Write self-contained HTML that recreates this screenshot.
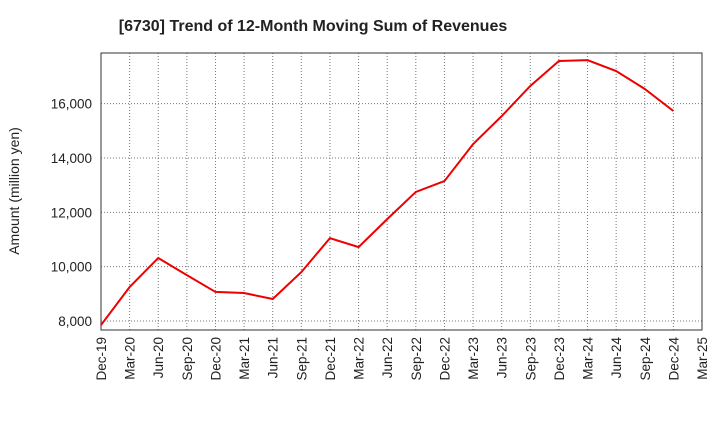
<!DOCTYPE html>
<html><head><meta charset="utf-8"><style>
body{margin:0;background:#fff;font-family:"Liberation Sans",sans-serif}
svg text{font-family:"Liberation Sans",sans-serif}
</style></head><body>
<svg id="c" width="720" height="440" xmlns="http://www.w3.org/2000/svg">
<text x="313" y="31" text-anchor="middle" font-size="16" font-weight="bold" fill="#222">[6730]  Trend of 12-Month Moving Sum of Revenues</text>
<text transform="translate(19,191) rotate(-90)" text-anchor="middle" font-size="14" fill="#222">Amount (million yen)</text>
<g id="grid"></g><g id="axes"></g><g id="series"></g>
</svg>
<script>
const categories=["Dec-19","Mar-20","Jun-20","Sep-20","Dec-20","Mar-21","Jun-21","Sep-21","Dec-21","Mar-22","Jun-22","Sep-22","Dec-22","Mar-23","Jun-23","Sep-23","Dec-23","Mar-24","Jun-24","Sep-24","Dec-24","Mar-25"];
const revenues=[7850,9250,10320,9690,9070,9030,8810,9800,11050,10720,11750,12750,13150,14510,15540,16650,17570,17600,17200,16540,15730];
const yTicks=[8000,10000,12000,14000,16000];
const yTickLabels=["8,000","10,000","12,000","14,000","16,000"];
const L=101,R=702,T=53,B=330,yMin=7669,yMax=17864;
const ns="http://www.w3.org/2000/svg";
const xs=i=>L+(R-L)*i/(categories.length-1);
const ys=v=>B-(v-yMin)/(yMax-yMin)*(B-T);
function mk(tag,attrs,parent){const e=document.createElementNS(ns,tag);for(const k in attrs)e.setAttribute(k,attrs[k]);document.getElementById(parent).appendChild(e);return e;}
categories.forEach((c,i)=>{
 const g=mk("line",{x1:xs(i),x2:xs(i),y1:T,y2:B,stroke:"#777","stroke-dasharray":"1,2","stroke-width":1},"grid");
 
 
 const x=xs(i);
 const t=mk("text",{transform:`translate(${x+5},${B+7}) rotate(-90)`,"text-anchor":"end","font-size":13.5,fill:"#222"},"axes");
 t.textContent=c;
 
 
});
yTicks.forEach((v,i)=>{
 const g=mk("line",{x1:L,x2:R,y1:ys(v),y2:ys(v),stroke:"#777","stroke-dasharray":"1,2","stroke-width":1},"grid");
 
 
 const t=mk("text",{x:L-9,y:ys(v)+5,"text-anchor":"end","font-size":13.5,fill:"#222"},"axes");
 t.textContent=yTickLabels[i];
 
 
});
const f=mk("rect",{x:L,y:T,width:R-L,height:B-T,fill:"none",stroke:"#333","stroke-width":1},"axes");


const p=mk("polyline",{points:revenues.map((v,i)=>xs(i)+","+ys(v)).join(" "),fill:"none",stroke:"#e00","stroke-width":2},"series");


</script>
</body></html>
